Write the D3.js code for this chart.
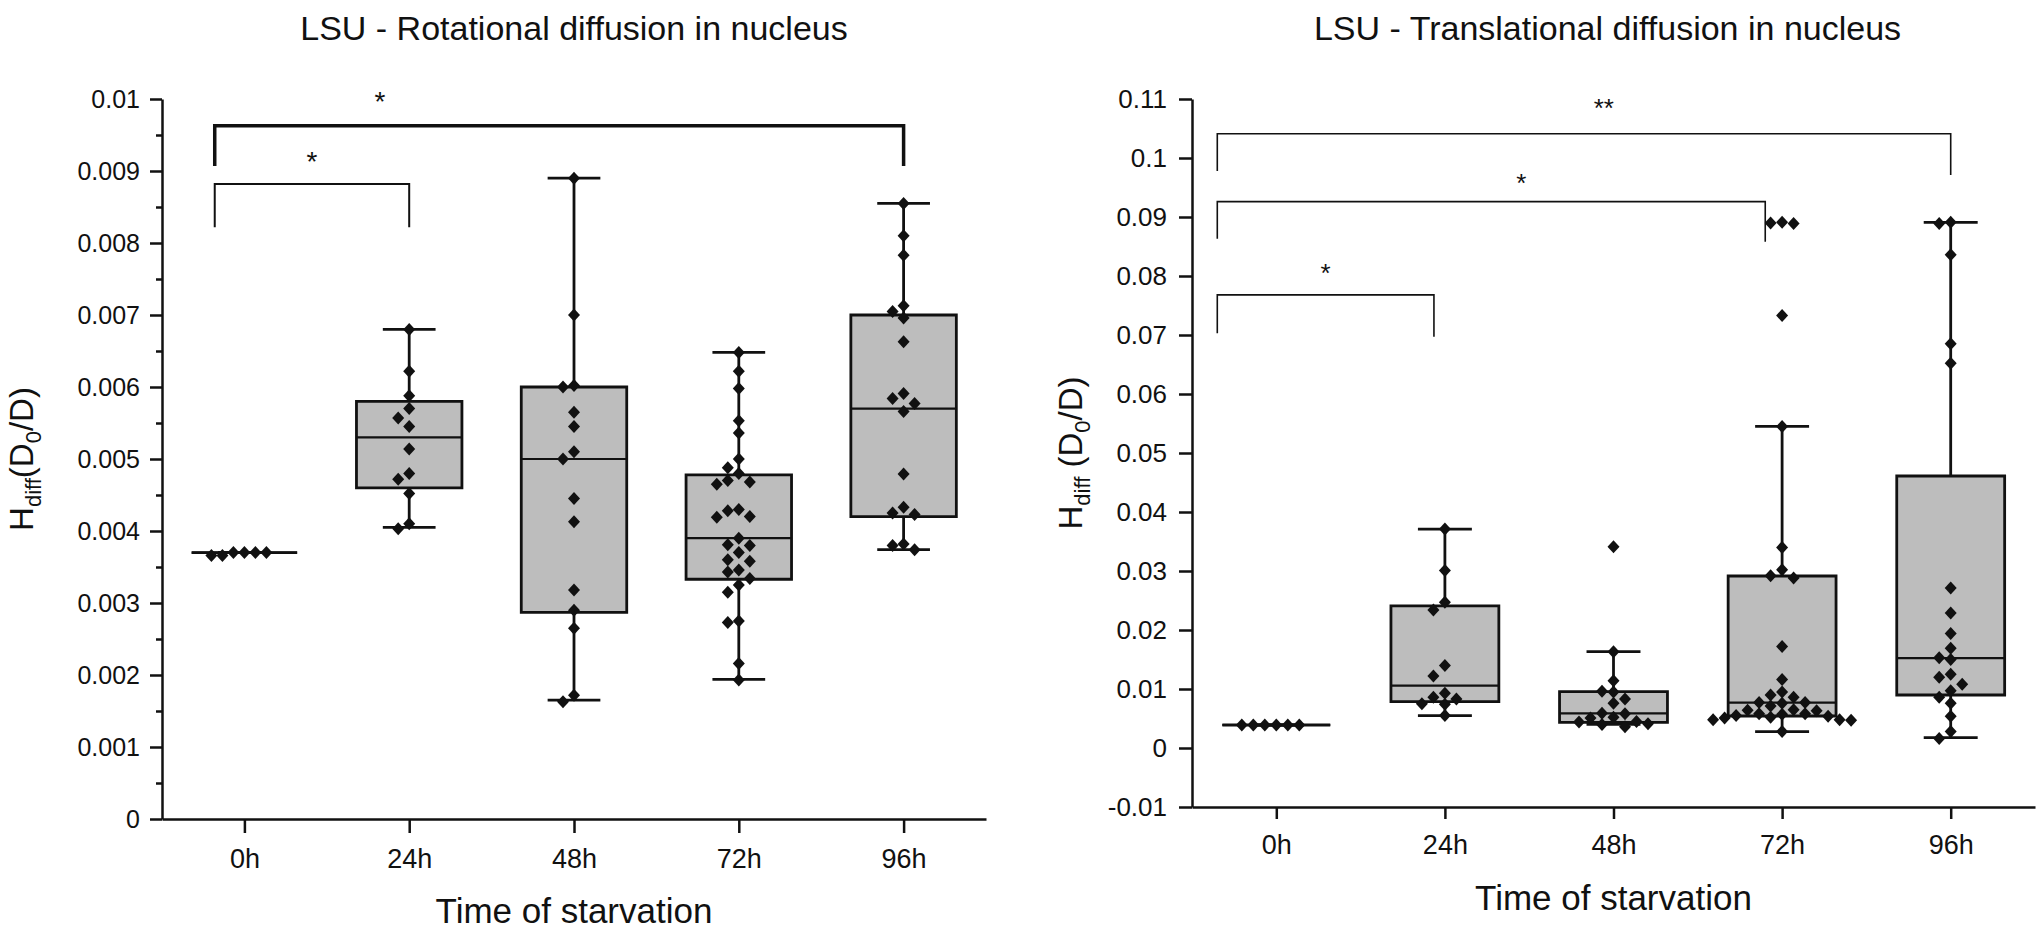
<!DOCTYPE html>
<html>
  <head>
    <meta charset="UTF-8">
    <title>LSU - diffusion in nucleus</title>
    <script src="https://d3js.org/d3.v7.min.js"></script>
    <style>
      body { margin: 0; background: #fff; }
      text { font-family: "Liberation Sans", Arial, sans-serif; fill: #111; }
    </style>
  </head>
  <body>
    <svg width="2042" height="934"></svg>
    <script>
      // Categories shared by both panels
      var categories = ["0h", "24h", "48h", "72h", "96h"];

      // Left panel: rotational diffusion, box statistics
      var rotQ1      = [0.0037, 0.0046,  0.00287, 0.00333, 0.0042];
      var rotMedian  = [0.0037, 0.0053,  0.0050,  0.0039,  0.0057];
      var rotQ3      = [0.0037, 0.0058,  0.0060,  0.00478, 0.0070];
      var rotLow     = [0.0037, 0.00405, 0.00165, 0.00194, 0.00374];
      var rotHigh    = [0.0037, 0.0068,  0.0089,  0.00648, 0.00855];
      // Left panel: individual points per category
      var rotPoints = [
        [0.0037, 0.0037, 0.0037, 0.00366, 0.0037, 0.00366],
        [0.0068, 0.00622, 0.00588, 0.0057, 0.00557, 0.00545, 0.00514, 0.0048, 0.00472, 0.00452, 0.0041, 0.00403],
        [0.0089, 0.007, 0.00602, 0.006, 0.00565, 0.00545, 0.0051, 0.005, 0.00445, 0.00413, 0.00318, 0.0029, 0.00265, 0.00172, 0.00163],
        [0.00648, 0.00622, 0.00598, 0.00553, 0.00536, 0.005, 0.00488, 0.0048, 0.0047, 0.00468, 0.00465, 0.0043, 0.00428, 0.0042, 0.00419,
         0.0039, 0.00381, 0.0038, 0.0037, 0.0036, 0.00358, 0.00346, 0.00343, 0.00334, 0.00325, 0.00315, 0.00275, 0.00273, 0.00216, 0.00193],
        [0.00855, 0.0081, 0.00783, 0.00713, 0.00705, 0.00696, 0.00663, 0.00591, 0.00584, 0.00577, 0.00566, 0.00479, 0.00433, 0.00425, 0.00423, 0.00382, 0.0038, 0.00374]
      ];
      var rotTicks = [0, 0.001, 0.002, 0.003, 0.004, 0.005, 0.006, 0.007, 0.008, 0.009, 0.01];
      var rotBrackets = [
        {from: "0h", to: "96h", top: 0.00963, legFrom: 0.00907, legTo: 0.00907, label: "*", labelAt: 0.01003},
        {from: "0h", to: "24h", top: 0.00882, legFrom: 0.00822, legTo: 0.00822, label: "*", labelAt: 0.0092}
      ];

      // Right panel: translational diffusion, box statistics
      var transQ1     = [0.0039, 0.00785, 0.00435, 0.00542, 0.00898];
      var transMedian = [0.0039, 0.01056, 0.00588, 0.00768, 0.01525];
      var transQ3     = [0.0039, 0.0241,  0.00955, 0.02915, 0.0461];
      var transLow    = [0.0039, 0.00548, 0.0040,  0.00277, 0.00175];
      var transHigh   = [0.0039, 0.0371,  0.01633, 0.0545,  0.0891];
      var transPoints = [
        [0.0039, 0.0039, 0.0039, 0.0039, 0.0039, 0.0039],
        [0.0371, 0.0301, 0.0247, 0.0234, 0.0140, 0.0122, 0.0093, 0.0086, 0.0083, 0.0075, 0.0074, 0.0055],
        [0.0341, 0.0163, 0.0114, 0.0096, 0.0095, 0.0083, 0.0076, 0.0059, 0.0058, 0.0052, 0.0051, 0.0045, 0.0044, 0.0041, 0.0040, 0.0036],
        [0.0891, 0.0890, 0.0889, 0.0733, 0.0545, 0.034, 0.0302, 0.0292, 0.0288, 0.0172, 0.0116, 0.0095, 0.009, 0.0086, 0.0077, 0.0077,
         0.0076, 0.0071, 0.0065, 0.0064, 0.0063, 0.0058, 0.0058, 0.0057, 0.0055, 0.0054, 0.0052, 0.0051, 0.0048, 0.0048, 0.0047, 0.0028],
        [0.0891, 0.0889, 0.0836, 0.0685, 0.0652, 0.0271, 0.0229, 0.0194, 0.0169, 0.0153, 0.0150, 0.0125, 0.0120, 0.0108, 0.0097, 0.0086,
         0.0076, 0.0054, 0.0028, 0.0016]
      ];
      var transTicks = [-0.01, 0, 0.01, 0.02, 0.03, 0.04, 0.05, 0.06, 0.07, 0.08, 0.09, 0.1, 0.11];
      var transBrackets = [
        {from: "0h", to: "96h", top: 0.1041, legFrom: 0.0978, legTo: 0.0971, label: "**", labelAt: 0.1093},
        {from: "0h", to: "72h", top: 0.0926, legFrom: 0.0863, legTo: 0.0858, label: "*", labelAt: 0.0966},
        {from: "0h", to: "24h", top: 0.0768, legFrom: 0.0703, legTo: 0.0697, label: "*", labelAt: 0.0813}
      ];

      var svg = d3.select("svg");
      svg.append("rect").attr("width", 2042).attr("height", 934).attr("fill", "#fff");

      var fmt = function(d) { return d3.format("~g")(d).replace("\u2212", "-"); };
      var diamond = "M0,-6.5L6,0L0,6.5L-6,0Z";

      // simple column swarm: push a point sideways while it overlaps a placed one
      function swarm(values, y, dx) {
        var placed = [], order = [0];
        for (var j = 1; j < 25; j++) { order.push(-j); order.push(j); }
        return values.map(function(v) {
          var py = y(v);
          for (var t = 0; t < order.length; t++) {
            var c = order[t];
            var hit = placed.some(function(p) { return p.col === c && Math.abs(p.y - py) < 11; });
            if (!hit) { placed.push({col: c, y: py}); return {off: c * dx, y: py}; }
          }
        });
      }

      function drawPanel(p) {
        var x = d3.scalePoint().domain(categories).range(p.xRange).padding(0.5);
        var y = d3.scaleLinear().domain(p.yDomain).range(p.yRange);
        var g = svg.append("g");
        var bw = x.step() * 0.64;

        // y axis with major (and optional minor) ticks
        var ya = g.append("g").attr("transform", "translate(" + p.xRange[0] + ",0)")
          .call(d3.axisLeft(y).tickValues(p.ticks).tickFormat(fmt).tickSize(p.yTick).tickSizeOuter(0).tickPadding(p.yPad));
        ya.selectAll("text").attr("font-size", p.tickFont);
        if (p.minor) {
          var minors = p.ticks.slice(1).map(function(d, i) { return (d + p.ticks[i]) / 2; });
          g.append("g").attr("transform", "translate(" + p.xRange[0] + ",0)")
            .call(d3.axisLeft(y).tickValues(minors).tickFormat("").tickSize(6).tickSizeOuter(0))
            .call(function(s) { s.select(".domain").remove(); });
        }

        // x axis
        var xa = g.append("g").attr("transform", "translate(0," + p.yRange[0] + ")")
          .call(d3.axisBottom(x).tickSize(p.xTick).tickSizeOuter(0).tickPadding(16));
        xa.selectAll("text").attr("font-size", p.xFont);
        g.selectAll(".domain, .tick line").attr("stroke", "#111").attr("stroke-width", 2.5);

        // boxes
        categories.forEach(function(c, i) {
          var cx = x(c);
          var bg = g.append("g");
          bg.append("line").attr("x1", cx).attr("x2", cx).attr("y1", y(p.q3[i])).attr("y2", y(p.high[i]));
          bg.append("line").attr("x1", cx).attr("x2", cx).attr("y1", y(p.q1[i])).attr("y2", y(p.low[i]));
          bg.append("line").attr("x1", cx - bw / 4).attr("x2", cx + bw / 4).attr("y1", y(p.high[i])).attr("y2", y(p.high[i]));
          bg.append("line").attr("x1", cx - bw / 4).attr("x2", cx + bw / 4).attr("y1", y(p.low[i])).attr("y2", y(p.low[i]));
          bg.selectAll("line").attr("stroke", "#111").attr("stroke-width", 2.8);
          bg.append("path")
            .attr("d", "M" + (cx - bw / 2) + "," + y(p.q3[i]) + "H" + (cx + bw / 2) + "V" + y(p.q1[i]) + "H" + (cx - bw / 2) + "Z")
            .attr("fill", "#bdbdbd").attr("stroke", "#111").attr("stroke-width", 2.8);
          bg.append("line").attr("x1", cx - bw / 2).attr("x2", cx + bw / 2)
            .attr("y1", y(p.median[i])).attr("y2", y(p.median[i]))
            .attr("stroke", "#111").attr("stroke-width", 2.2);
        });

        // points
        categories.forEach(function(c, i) {
          var pts = swarm(p.points[i], y, p.dx);
          g.append("g").selectAll("path").data(pts).join("path")
            .attr("d", diamond)
            .attr("transform", function(d) { return "translate(" + (x(c) + d.off) + "," + d.y + ")"; })
            .attr("fill", "#111");
        });

        // significance brackets
        p.brackets.forEach(function(b, i) {
          var st = p.bracketStyle[i];
          var x1 = x(b.from) + st.shiftFrom * x.step(), x2 = x(b.to) + st.shiftTo * x.step();
          g.append("path")
            .attr("d", "M" + x1 + "," + y(b.legFrom) + "V" + y(b.top) + "H" + x2 + "V" + y(b.legTo))
            .attr("fill", "none").attr("stroke", "#111").attr("stroke-width", st.width);
          g.append("text").attr("x", x1 + (x2 - x1) * st.labelPos)
            .attr("y", y(b.labelAt) + p.starFont * 0.52)
            .attr("text-anchor", "middle").attr("font-size", p.starFont).text(b.label);
        });

        // titles
        var mid = (p.xRange[0] + p.xRange[1]) / 2;
        svg.append("text").attr("x", mid + p.titleShift).attr("y", 40).attr("text-anchor", "middle")
          .attr("font-size", 34).text(p.title);
        svg.append("text").attr("x", mid).attr("y", p.xTitleY).attr("text-anchor", "middle")
          .attr("font-size", 35).text("Time of starvation");
        var yl = svg.append("text")
          .attr("transform", "translate(" + p.yLabelX + "," + ((p.yRange[0] + p.yRange[1]) / 2) + ") rotate(-90)")
          .attr("text-anchor", "middle").attr("font-size", 33);
        yl.append("tspan").text("H");
        yl.append("tspan").attr("font-size", 22).attr("dy", 8).text("diff");
        yl.append("tspan").attr("dy", -8).text(p.yOpen);
        yl.append("tspan").attr("font-size", 22).attr("dy", 8).text("0");
        yl.append("tspan").attr("dy", -8).text("/D)");
      }

      drawPanel({
        xRange: [162, 986], yRange: [819, 99], yDomain: [0, 0.01], ticks: rotTicks, minor: true,
        yTick: 12, yPad: 10, xTick: 14, tickFont: 25, xFont: 27, dx: 11,
        q1: rotQ1, median: rotMedian, q3: rotQ3, low: rotLow, high: rotHigh, points: rotPoints,
        brackets: rotBrackets,
        bracketStyle: [{shiftFrom: -0.18, shiftTo: 0, width: 3.5, labelPos: 0.24},
                       {shiftFrom: -0.18, shiftTo: 0, width: 2, labelPos: 0.5}],
        starFont: 28, title: "LSU - Rotational diffusion in nucleus", titleShift: 0,
        xTitleY: 923, yLabelX: 33, yOpen: "(D"
      });

      drawPanel({
        xRange: [1192, 2035], yRange: [807, 99], yDomain: [-0.01, 0.11], ticks: transTicks, minor: false,
        yTick: 13, yPad: 12, xTick: 12, tickFont: 26, xFont: 27, dx: 11.5,
        q1: transQ1, median: transMedian, q3: transQ3, low: transLow, high: transHigh, points: transPoints,
        brackets: transBrackets,
        bracketStyle: [{shiftFrom: -0.35, shiftTo: 0, width: 1.6, labelPos: 0.527},
                       {shiftFrom: -0.35, shiftTo: -0.1, width: 1.6, labelPos: 0.555},
                       {shiftFrom: -0.35, shiftTo: -0.065, width: 1.6, labelPos: 0.5}],
        starFont: 26, title: "LSU - Translational diffusion in nucleus", titleShift: -6,
        xTitleY: 910, yLabelX: 1082, yOpen: " (D"
      });
    </script>
  </body>
</html>
